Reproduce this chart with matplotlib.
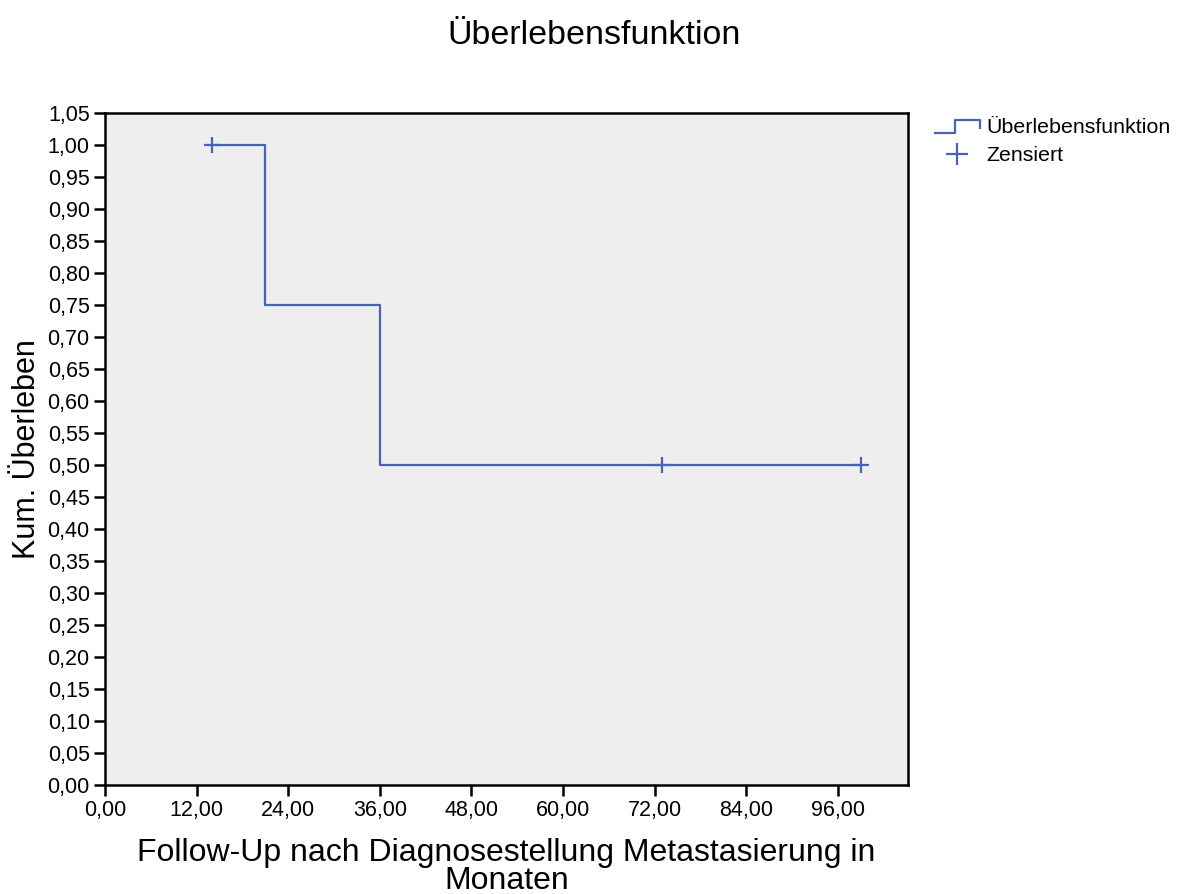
import numpy as np
import matplotlib
matplotlib.use("Agg")
import matplotlib.pyplot as plt
from matplotlib.lines import Line2D
from matplotlib.legend_handler import HandlerBase
from matplotlib.ticker import FuncFormatter

plt.rcParams['font.family'] = ['Liberation Sans', 'DejaVu Sans']

# Kaplan-Meier steps (months, cumulative survival)
step_t = [14.0, 21.0, 36.0, 99.0]
step_s = [1.00, 0.75, 0.50, 0.50]
# censored cases
cens_t = [14.0, 73.0, 99.0]
cens_s = [1.00, 0.50, 0.50]

x_ticks = [0, 12, 24, 36, 48, 60, 72, 84, 96]
y_ticks = np.arange(0, 1.051, 0.05)

blue = '#4a62b6'

fig = plt.figure(figsize=(11.77, 8.94), dpi=100)
ax = fig.add_axes([0.0892, 0.1219, 0.6823, 0.7517])
ax.set_facecolor('#eeeeee')

ax.step(step_t, step_s, where='post', color=blue, lw=1.6)
ax.plot(cens_t, cens_s, ls='none', marker='+', ms=12, mew=1.6, color=blue)

ax.set_xlim(0, 105.2)
ax.set_ylim(0, 1.05)
ax.set_xticks(x_ticks)
ax.set_yticks(y_ticks)
comma = FuncFormatter(lambda v, p: ('%.2f' % v).replace('.', ','))
ax.xaxis.set_major_formatter(comma)
ax.yaxis.set_major_formatter(comma)
ax.tick_params(direction='out', length=8, width=1.8, labelsize=15.5, pad=3)
for s in ax.spines.values():
    s.set_linewidth(1.8)

ax.set_xlabel('Follow-Up nach Diagnosestellung Metastasierung in\nMonaten',
              fontsize=23, linespacing=0.9, labelpad=12)
ax.set_ylabel('Kum. Überleben', fontsize=22, labelpad=4)
fig.suptitle('Überlebensfunktion', fontsize=24.5, y=0.978, x=0.505)


class StepHandler(HandlerBase):
    def create_artists(self, legend, orig, xd, yd, w, h, fontsize, trans):
        xs = [xd, xd + w * 0.45, xd + w * 0.45, xd + w, xd + w]
        ys = [yd + h * 0.0, yd + h * 0.0, yd + h * 0.85, yd + h * 0.85, yd + h * 0.3]
        ln = Line2D(xs, ys, color=blue, lw=1.6, transform=trans)
        return [ln]


h_step = Line2D([], [], color=blue)
h_cens = Line2D([], [], ls='none', marker='+', ms=16, mew=1.6, color=blue)
fig.legend([h_step, h_cens], ['Überlebensfunktion', 'Zensiert'],
           handler_map={h_step: StepHandler()},
           loc='upper left', bbox_to_anchor=(0.778, 0.89), frameon=False,
           fontsize=15.4, handlelength=2.1, handletextpad=0.3, labelspacing=0.45)

fig.savefig('out.png', dpi=100)
